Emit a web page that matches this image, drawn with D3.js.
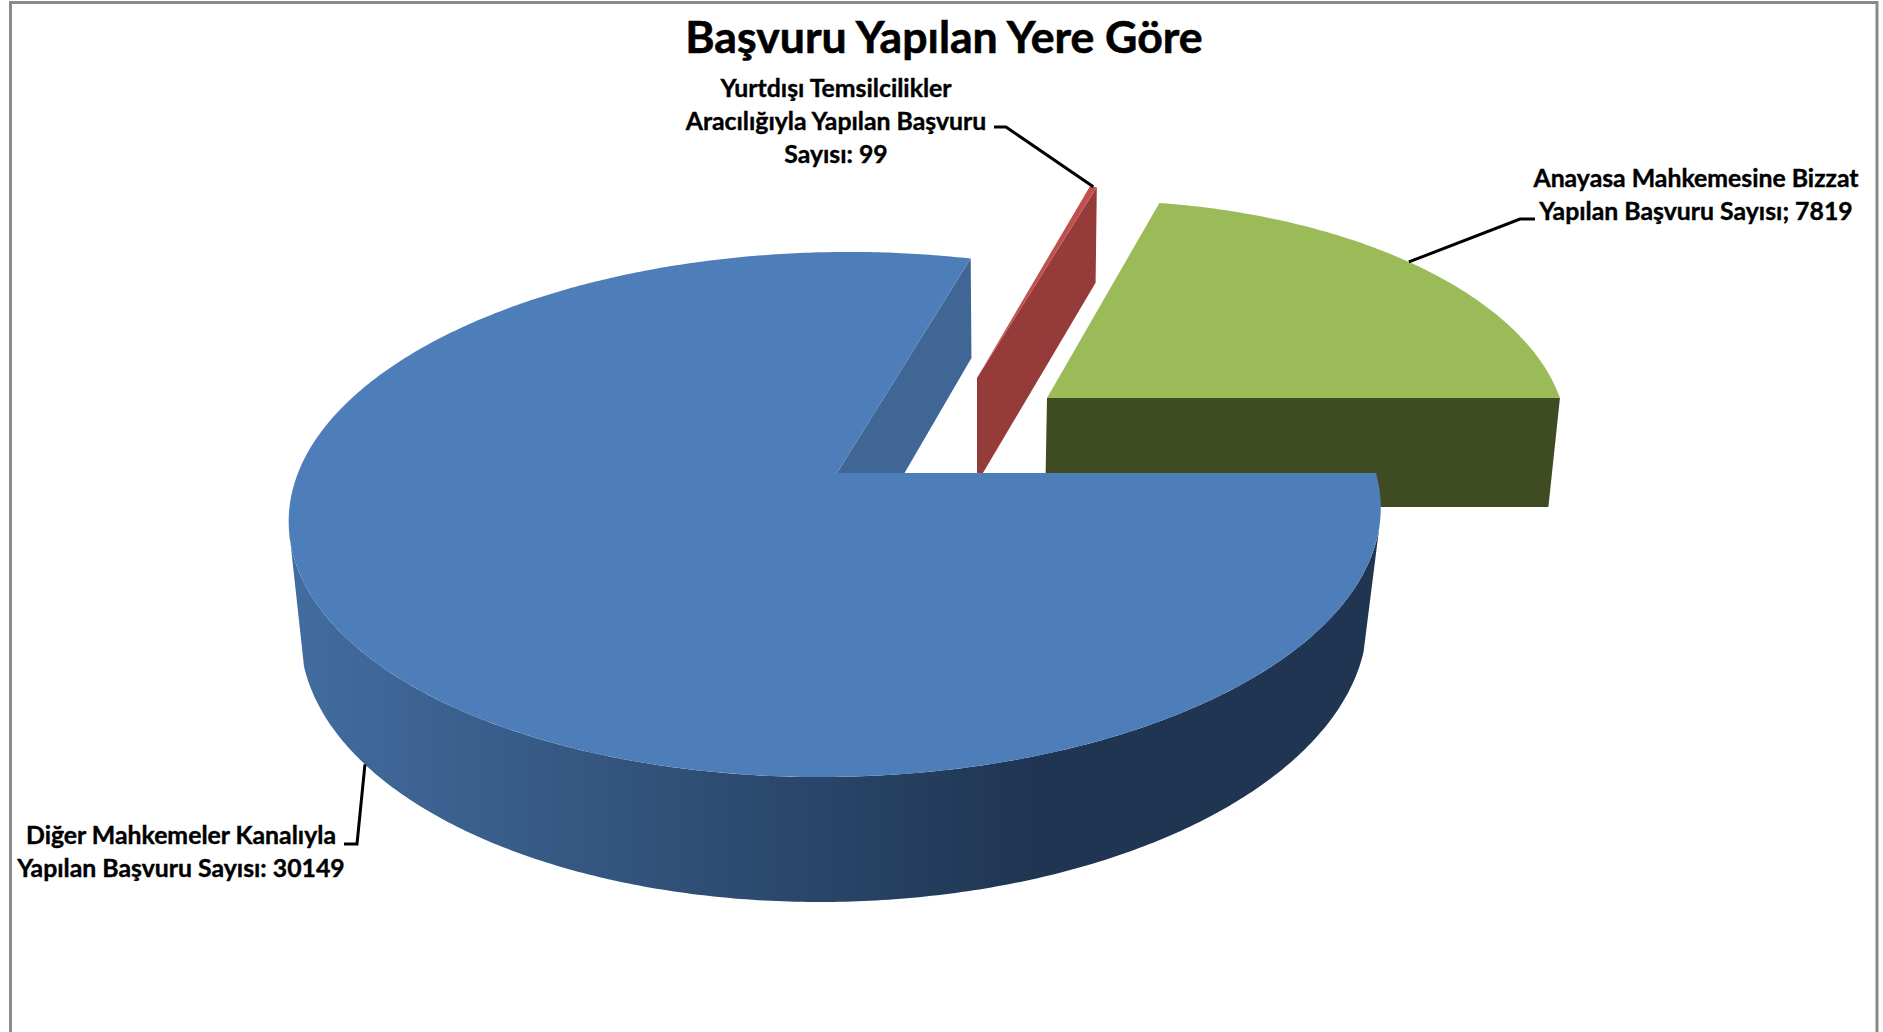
<!DOCTYPE html>
<html lang="tr">
<head>
<meta charset="UTF-8">
<title>Başvuru Yapılan Yere Göre</title>
<script src="https://d3js.org/d3.v7.min.js"></script>
<style>
    html, body { margin: 0; padding: 0; background: #fff; }
    svg { display: block; }
    text { font-family: Lato, "Open Sans", sans-serif; font-weight: 700; fill: #000; stroke: #000; text-anchor: middle; }
</style>
</head>
<body>
<div id="chart"></div>
<script>
var title = "Başvuru Yapılan Yere Göre";
var categories = ["Diğer Mahkemeler Kanalıyla", "Yurtdışı Temsilcilikler", "Anayasa Mahkemesine Bizzat"];
var values = [30149, 99, 7819];
var labelLines = [
    ["Diğer Mahkemeler Kanalıyla", "Yapılan Başvuru Sayısı: 30149"],
    ["Yurtdışı Temsilcilikler", "Aracılığıyla Yapılan Başvuru", "Sayısı: 99"],
    ["Anayasa Mahkemesine Bizzat", "Yapılan Başvuru Sayısı; 7819"]
];

var width = 1883, height = 1032;
var svg = d3.select("#chart").append("svg").attr("width", width).attr("height", height);

// angles come from the values, clockwise from the 3 o'clock edge of the big slice
var arcs = d3.pie().sort(null).startAngle(Math.PI / 2).endAngle(Math.PI / 2 + 2 * Math.PI)(values);

// perspective planes: cx,cy = slice apex, rx,ry = radii, k,m = perspective, s = shear
var planes = {
    blueTop:  {cx: 837,  cy: 473, rx: 539, ry: 256, k: 0.158, m: 0, s: -14},
    blueBase: {cx: 836,  cy: 584, rx: 527, ry: 269, k: 0.154, m: 0, s: -14},
    blueCut:  {cx: 840,  cy: 584, rx: 527, ry: 269, k: 0.154, m: 0, s: -14},
    redTop:   {cx: 977,  cy: 378, rx: 493, ry: 226, k: 0.158, m: 0.05, s: 0},
    redBase:  {cx: 977,  cy: 483, rx: 488, ry: 237, k: 0.158, m: 0.05, s: 0},
    greenTop: {cx: 1047, cy: 398, rx: 455.5, ry: 227.5, k: 0.158, m: 0.112, s: 0},
    greenBase:{cx: 1045, cy: 507, rx: 447, ry: 227.5, k: 0.158, m: 0.112, s: 0}
};

function project(p, angle, r) {
    if (r === undefined) r = 1;
    var u = r * Math.sin(angle), v = -r * Math.cos(angle);
    var w = 1 - p.k * v - p.m * u;
    return [p.cx + (p.rx * u + p.s * v) / w, p.cy + p.ry * v / w];
}

function arcPoints(p, a0, a1) {
    var n = Math.max(2, Math.ceil(Math.abs(a1 - a0) / 0.01));
    return d3.range(n + 1).map(function(i) { return project(p, a0 + (a1 - a0) * i / n); });
}

function deg(d) { return d * Math.PI / 180; }

var line = d3.line();
function closed(pts) { return line(pts) + "Z"; }

var defs = svg.append("defs");
var grad = defs.append("linearGradient").attr("id", "blueWall")
    .attr("gradientUnits", "userSpaceOnUse")
    .attr("x1", 300).attr("x2", 1040).attr("y1", 0).attr("y2", 0);
grad.append("stop").attr("offset", 0).attr("stop-color", "#426C9F");
grad.append("stop").attr("offset", 1).attr("stop-color", "#1F3551");

// chart frame
svg.append("path")
    .attr("d", "M10.5," + (height + 2) + "V2.5H1877V" + (height + 2))
    .attr("fill", "none").attr("stroke", "#8a8a8a").attr("stroke-width", 3);

var blue = arcs[0], red = arcs[1], green = arcs[2];

// green slice
svg.append("path").attr("fill", "#3F4B23")
    .attr("d", closed([project(planes.greenTop, 0, 0), project(planes.greenTop, green.endAngle),
                       project(planes.greenBase, green.endAngle), project(planes.greenBase, 0, 0)]));
svg.append("path").attr("fill", "#9BBB59")
    .attr("d", closed([project(planes.greenTop, 0, 0)].concat(arcPoints(planes.greenTop, green.startAngle, green.endAngle))));

// red slice
svg.append("path").attr("fill", "#953B39")
    .attr("d", closed([project(planes.redTop, 0, 0), project(planes.redTop, red.endAngle),
                       project(planes.redBase, red.endAngle), project(planes.redBase, 0, 0)]));
svg.append("path").attr("fill", "#C0504D")
    .attr("d", closed([project(planes.redTop, 0, 0)].concat(arcPoints(planes.redTop, red.startAngle, red.endAngle))));

// blue slice: cut edge, outer wall between the silhouette tangents, top
svg.append("path").attr("fill", "#3F6695")
    .attr("d", closed([project(planes.blueTop, 0, 0), project(planes.blueTop, blue.endAngle),
                       project(planes.blueCut, blue.endAngle), project(planes.blueCut, 0, 0)]));
svg.append("path").attr("fill", "url(#blueWall)")
    .attr("d", closed(arcPoints(planes.blueTop, deg(101), deg(258))
        .concat(arcPoints(planes.blueBase, deg(253), deg(104)))));
svg.append("path").attr("fill", "#4E7EBA")
    .attr("d", closed([project(planes.blueTop, 0, 0)].concat(arcPoints(planes.blueTop, blue.startAngle, blue.endAngle))));

// leader lines, starting from each slice's mid angle
function midAngle(d) { return (d.startAngle + d.endAngle) / 2; }
var leaders = [
    [project(planes.blueBase, midAngle(blue)), [357, 844], [344, 844]],
    [project(planes.redTop, midAngle(red)), [1006, 127], [994, 127]],
    [project(planes.greenTop, midAngle(green)), [1520, 219], [1535, 219]]
];
svg.selectAll("path.leader").data(leaders).enter().append("path")
    .attr("class", "leader")
    .attr("d", function(d) { return line(d); })
    .attr("fill", "none").attr("stroke", "#000").attr("stroke-width", 3);

// title and labels
svg.append("text").attr("x", 944).attr("y", 53).attr("font-size", 44.6).attr("stroke-width", 0.6).text(title);

var labelPos = [
    {x: 181, y: 844},
    {x: 836, y: 97},
    {x: 1696, y: 187}
];
var lineGap = 33;
svg.selectAll("g.label").data(labelLines).enter().append("g")
    .attr("class", "label")
    .attr("aria-label", function(d, i) { return categories[i]; })
    .each(function(d, i) {
        d3.select(this).selectAll("text").data(d).enter().append("text")
            .attr("x", labelPos[i].x)
            .attr("y", function(t, j) { return labelPos[i].y + j * lineGap; })
            .attr("font-size", 24.8)
            .attr("stroke-width", 0.4)
            .text(function(t) { return t; });
    });
</script>
</body>
</html>
